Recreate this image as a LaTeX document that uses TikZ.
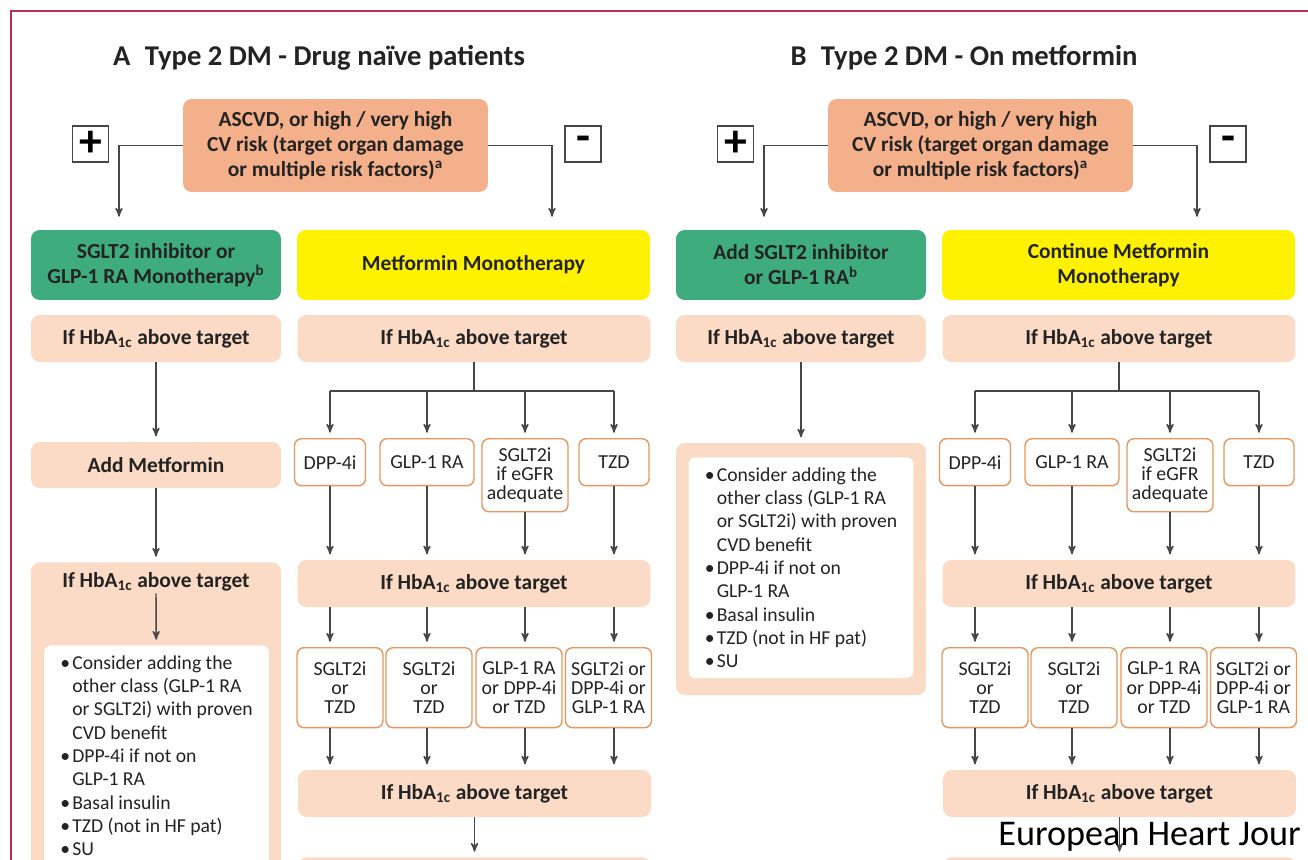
\documentclass[tikz,border=0pt]{standalone}
\usepackage{fontspec}
\setmainfont{Carlito}
\usetikzlibrary{arrows, positioning}

\definecolor{riskcol}{RGB}{244,176,138}
\definecolor{peachcol}{RGB}{251,219,198}
\definecolor{greencol}{RGB}{62,172,124}
\definecolor{yellowcol}{RGB}{255,242,0}
\definecolor{drugcol}{RGB}{232,150,92}
\definecolor{framecol}{RGB}{178,50,84}
\definecolor{inkcol}{RGB}{35,35,35}
\definecolor{linecol}{RGB}{70,70,70}

\tikzset{
  >=stealth', % filled arrow heads
  every node/.style={inner sep=1pt},
  arr/.style={->, draw=linecol, line width=0.8pt, shorten >=3pt},
  line/.style={draw=linecol, line width=0.8pt},
  riskbox/.style={fill=riskcol, rounded corners=5pt, text=inkcol, align=center,
    font=\fontsize{12.2}{14.2}\selectfont\bfseries, minimum width=6.1cm, minimum height=1.86cm},
  signbox/.style={draw=linecol, line width=0.8pt, minimum size=0.72cm, text=black,
    font=\fontsize{26}{26}\selectfont\bfseries},
  greenbox/.style={fill=greencol, rounded corners=5pt, text=inkcol, align=center,
    font=\fontsize{12.2}{14.2}\selectfont\bfseries, minimum width=5cm, minimum height=1.4cm},
  yellowbox/.style={greenbox, fill=yellowcol, minimum width=7.06cm},
  hbabox/.style={fill=peachcol, rounded corners=5pt, text=inkcol,
    font=\fontsize{12.2}{14}\selectfont\bfseries, minimum height=0.94cm},
  hbatext/.style={text=inkcol, font=\fontsize{12.2}{14}\selectfont\bfseries},
  drugbox/.style={draw=drugcol, fill=white, line width=0.8pt, rounded corners=4pt, text=inkcol,
    align=center, font=\fontsize{11.3}{11}\selectfont, minimum height=0.94cm,
    inner xsep=2pt, inner ysep=5pt},
  listbox/.style={fill=white, rounded corners=4pt, text=inkcol, align=left,
    font=\fontsize{11.2}{13.3}\selectfont, minimum width=4.5cm, inner ysep=0.2cm},
}

\newcommand{\hba}{If HbA\textsubscript{1c} above target}
\newcommand{\blt}{\makebox[0.24cm][l]{\textbullet}}
\newcommand{\ind}{\hspace*{0.24cm}}
\newcommand{\optlist}{\blt Consider adding the\\
  \ind other class (GLP-1 RA\\
  \ind or SGLT2i) with proven\\
  \ind CVD benefit\\
  \blt DPP-4i if not on\\
  \ind GLP-1 RA\\
  \blt Basal insulin\\
  \blt TZD (not in HF pat)\\
  \blt SU}

\begin{document}
\begin{tikzpicture}[x=0.02cm, y=-0.02cm]
  \useasboundingbox (0,0) rectangle (1308,859);
  % frame
  \draw[framecol, line width=1.1pt] (11,880) -- (11,11) -- (1330,11);

  % both panels share the head and the right column
  \foreach \ox/\p/\ttl/\grn/\ylw in {
    0/a/{A\enspace Type 2 DM - Drug naïve patients}/{SGLT2 inhibitor or\\GLP-1 RA Monotherapy\textsuperscript{b}}/{Metformin Monotherapy},
    645/b/{B\enspace Type 2 DM - On metformin}/{Add SGLT2 inhibitor\\or GLP-1 RA\textsuperscript{b}}/{Continue Metformin\\Monotherapy}}
  {
    \node[text=inkcol, font=\fontsize{16.3}{18}\selectfont\bfseries] (title\p) at (\ox+319,58) {\ttl};

    % risk question
    \node[riskbox] (risk\p) at (\ox+335.5,145.5)
      {ASCVD, or high / very high\\CV risk (target organ damage\\or multiple risk factors)\textsuperscript{a}};
    \node[signbox] (plus\p) at (\ox+90.5,144) {+};
    \node[signbox] (minus\p) at (\ox+583,144) {-};
    \node[greenbox] (grn\p) at (\ox+156,265) {\grn};
    \node[yellowbox] (ylw\p) at (\ox+473.5,265) {\ylw};
    \coordinate (pl\p) at (\ox+119,222);
    \coordinate (mi\p) at (\ox+552,222);
    \draw[arr] (risk\p.west) -| (pl\p);
    \draw[arr] (risk\p.east) -| (mi\p);

    % HbA1c rows
    \node[hbabox, minimum width=5cm] (hbl\p) at (\ox+156,338.5) {\hba};
    \node[hbabox, minimum width=7.06cm] (hbr\p) at (\ox+474,338.5) {\hba};
    \node[hbabox, minimum width=7.06cm] (hbb\p) at (\ox+474,583.5) {\hba};
    \node[hbabox, minimum width=7.06cm] (hbc\p) at (\ox+474.5,793.5) {\hba};
    \node[hbabox, minimum width=7.06cm, minimum height=1cm, anchor=north] (nxt\p) at (\ox+474.5,857) {};
    \coordinate (split\p) at (\ox+474,391);
    \draw[line] (hbr\p) -- (split\p);
    \draw[arr] (hbc\p) -- (nxt\p);

    % drug columns
    \foreach \cx/\w/\dtxt/\ex/\etxt [count=\i] in {
      330/1.42/{DPP-4i}/340/{SGLT2i\\or\\TZD},
      427/1.88/{GLP-1 RA}/429/{SGLT2i\\or\\TZD},
      525/1.72/{SGLT2i\\if eGFR\\adequate}/519/{GLP-1 RA\\or DPP-4i\\or TZD},
      614/1.40/{TZD}/608.5/{SGLT2i or\\DPP-4i or\\GLP-1 RA}}
    {
      \coordinate (col\p\i) at (\ox+\cx,391);
      \node[drugbox, anchor=north, minimum width=\w cm] (d\p\i) at (\ox+\cx,438) {\dtxt};
      \node[drugbox, anchor=north, minimum width=1.72cm, minimum height=1.6cm] (e\p\i) at (\ox+\ex,647) {\etxt};
      \draw[arr] (col\p\i) -- (d\p\i);
      \draw[arr] (d\p\i) -- (col\p\i |- hbb\p.north);
      \draw[arr] (col\p\i |- hbb\p.south) -- (col\p\i |- e\p\i.north);
      \draw[arr] (col\p\i |- e\p\i.south) -- (col\p\i |- hbc\p.north);
    }
    \draw[line] (col\p1) -- (col\p4);
  }

  % A left column
  \node[hbabox, minimum width=5cm, minimum height=0.92cm] (addmet) at (156,465) {Add Metformin};
  \node[hbabox, minimum width=5cm, minimum height=6.6cm, anchor=north] (biga) at (156,562) {};
  \node[hbatext] (hbxa) at (156,582) {\hba};
  \node[listbox, anchor=north] (lista) at (156.5,645) {\optlist};
  \draw[arr] (hbla) -- (addmet);
  \draw[arr] (addmet) -- (biga);
  \draw[arr] (hbxa) -- (lista);

  % B left column
  \node[hbabox, minimum width=5cm, minimum height=5.04cm] (bigb) at (801,569) {};
  \node[listbox, anchor=north] (listb) at (801,457) {\optlist};
  \draw[arr] (hblb) -- (bigb);

  \node[anchor=base west, inner sep=0pt, font=\fontsize{20.6}{24}\selectfont] (journal) at (998,845) {European Heart Jour};
\end{tikzpicture}
\end{document}
